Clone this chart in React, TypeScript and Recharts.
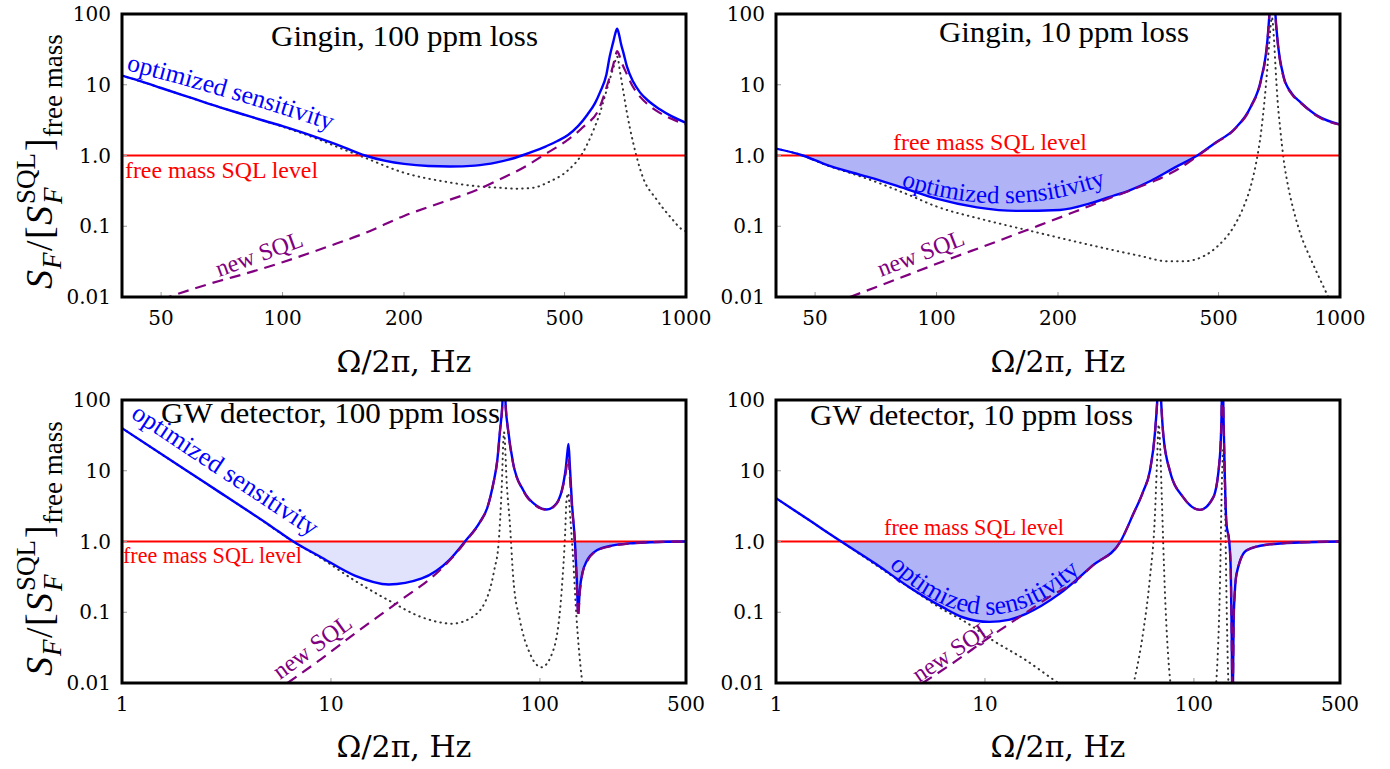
import React from 'react';
import { ComposedChart, Line, Area, XAxis, YAxis, ReferenceLine } from 'recharts';

const TIMES = "'Liberation Serif', 'Times New Roman', serif";
const DJV = "'DejaVu Serif', serif";

const BLUE = '#0000ff';
const PURPLE = '#800080';
const RED = '#ff0000';
const DOT = '#333333';
const FILL_DARK = '#b1b3f7';
const FILL_LIGHT = '#e1e2fb';

// ticks
const ginginTicks = [50, 100, 200, 500, 1000];
const gwTicks = [1, 10, 100, 500];
const yTicks = [0.01, 0.1, 1, 10, 100];
const yTickLabels = ['0.01', '0.1', '1.0', '10', '100'];

// Gingin, 100 ppm loss
const g100BlueF = [40, 45, 50, 60, 70, 80, 90, 100, 120, 140, 160, 180, 200, 230, 260, 300, 340, 370, 392, 420, 450, 480, 510, 540, 570, 595, 612, 635, 647, 660, 668, 675, 682, 690, 700, 714, 740, 769, 810, 861, 920, 1000];
const g100BlueV = [13.5, 11, 9, 6.4, 4.8, 3.8, 3.1, 2.6, 1.85, 1.35, 1.0, 0.84, 0.76, 0.71, 0.7, 0.72, 0.8, 0.9, 1.0, 1.15, 1.35, 1.6, 1.95, 2.6, 3.8, 5.5, 7.8, 14, 25, 40, 53, 62, 52, 38, 28, 18, 11, 7.8, 5.8, 4.5, 3.6, 2.9];
const g100DashF = [50, 60, 70, 80, 100, 130, 160, 200, 250, 305, 345, 400, 442, 500, 555, 612, 640, 660, 668, 675, 682, 690, 714, 740, 769, 810, 861, 920, 1000];
const g100DashV = [0.0092, 0.013, 0.017, 0.021, 0.031, 0.052, 0.08, 0.14, 0.22, 0.33, 0.46, 0.7, 1.0, 1.55, 2.5, 4.9, 10.5, 19, 25, 30, 27, 22, 14, 9.2, 6.8, 5.1, 4.0, 3.3, 2.75];
const g100DotF = [40, 50, 60, 70, 80, 100, 120, 140, 160, 200, 257, 300, 345, 376, 417, 460, 507, 555, 590, 612, 630, 647, 662, 675, 688, 700, 714, 740, 781, 845, 920, 978, 1000];
const g100DotV = [13.5, 9, 6.4, 4.8, 3.8, 2.55, 1.78, 1.25, 0.93, 0.57, 0.42, 0.37, 0.35, 0.34, 0.35, 0.43, 0.6, 1.1, 2.3, 4.0, 7, 11.8, 18, 25, 14, 7.8, 4, 1.5, 0.5, 0.24, 0.13, 0.09, 0.085];

// Gingin, 10 ppm loss
const g10BlueF = [40, 46.6, 53, 62, 71, 85, 100, 126, 158, 202, 240, 269, 300, 340, 390, 443, 490, 546, 601, 637, 661, 668, 674, 680, 686, 692, 700, 725, 760, 800, 882, 1000];
const g10BlueV = [1.25, 1.0, 0.75, 0.57, 0.46, 0.33, 0.245, 0.185, 0.165, 0.17, 0.21, 0.26, 0.32, 0.44, 0.68, 1.0, 1.5, 2.33, 4.9, 11.8, 43, 95, 250, 500, 250, 95, 43, 13, 7.5, 5.6, 3.6, 2.75];
const g10DashF = [61, 80, 104, 140, 174, 220, 269, 310, 351, 400, 443, 490, 546, 601, 637, 661, 668, 674, 680, 686, 692, 700, 725, 760, 800, 882, 1000];
const g10DashV = [0.01, 0.018, 0.032, 0.06, 0.096, 0.16, 0.25, 0.34, 0.45, 0.66, 0.98, 1.48, 2.3, 4.8, 11.5, 42, 93, 245, 490, 245, 93, 42, 12.6, 7.3, 5.5, 3.55, 2.72];
const g10DotF = [40, 46.6, 53, 62, 71, 85, 100, 130, 177, 220, 269, 320, 374, 410, 460, 497, 546, 575, 601, 620, 637, 650, 661, 670, 678, 686, 692, 700, 712, 725, 745, 770, 800, 847, 900, 935, 960];
const g10DotV = [1.25, 1.0, 0.74, 0.55, 0.42, 0.28, 0.19, 0.125, 0.082, 0.061, 0.047, 0.038, 0.032, 0.032, 0.038, 0.052, 0.1, 0.18, 0.37, 0.8, 2.1, 6, 18, 50, 90, 45, 18, 6.2, 2.2, 0.88, 0.35, 0.156, 0.075, 0.034, 0.016, 0.01, 0.007];

// GW detector, 100 ppm loss
const gw100BlueF = [1, 2, 3, 4, 5, 6.6, 9.06, 13, 18.9, 27.2, 36.7, 43.8, 51.6, 56, 59.8, 62.5, 64.4, 66, 67.3, 68.6, 70.5, 74.5, 83.2, 96.4, 107.7, 120, 129.4, 133, 135, 137, 139, 142, 147, 150, 152.5, 155, 160, 167, 187, 224, 270, 324, 400, 500];
const gw100BlueV = [40, 10.4, 4.75, 2.72, 1.76, 1.0, 0.59, 0.33, 0.247, 0.3, 0.54, 1.0, 1.88, 3, 6.6, 14, 37, 80, 300, 80, 37, 12.6, 5.3, 3.2, 2.83, 3.45, 6.6, 11, 17, 24, 12, 3.8, 1.0, 0.3, 0.1, 0.2, 0.37, 0.52, 0.75, 0.88, 0.94, 0.97, 0.99, 1.0];
const gw100DashF = [6.2, 9, 13, 21, 32.8, 39, 43.8, 51.6, 56, 59.8, 62.5, 64.4, 66, 67.3, 68.6, 70.5, 74.5, 83.2, 96.4, 107.7, 120, 129.4, 133, 135, 137, 139, 142, 147, 150, 152.5, 155, 160, 167, 187, 224, 270, 324, 400, 500];
const gw100DashV = [0.01, 0.022, 0.05, 0.14, 0.38, 0.64, 0.98, 1.86, 3, 6.5, 14, 36, 80, 300, 80, 36, 12.4, 5.2, 3.15, 2.8, 3.4, 6.3, 9.5, 13, 15, 8.5, 3.4, 0.95, 0.27, 0.085, 0.18, 0.36, 0.5, 0.74, 0.87, 0.94, 0.97, 0.99, 1.0];
const gw100DotF = [1, 2, 4, 6.6, 9.06, 13, 18.9, 27.2, 37.9, 47.3, 56.8, 60.5, 63.4, 65.5, 67.3, 69.5, 71.8, 74.5, 80.2, 89.6, 101.8, 115.8, 127, 132, 134, 136.5, 140, 144, 149.6, 158.4, 165];
const gw100DotV = [40, 10.4, 2.72, 1.0, 0.57, 0.28, 0.147, 0.085, 0.069, 0.085, 0.184, 0.4, 0.94, 5, 35, 6, 1.8, 0.31, 0.077, 0.026, 0.0167, 0.029, 0.2, 1.3, 3.8, 4.8, 2, 0.6, 0.085, 0.012, 0.005];

// GW detector, 10 ppm loss
const gw10BlueF = [1, 1.5, 2.05, 3.01, 4.34, 6.27, 7.82, 10.5, 13, 15.7, 22.7, 32.8, 44.5, 51.3, 57, 61.6, 65, 67, 68.2, 69.4, 71.3, 76.7, 88.9, 106.9, 123.7, 133, 135.5, 137, 138.5, 140.6, 143, 147.5, 150, 151.4, 153, 155, 157, 160, 178.5, 222.6, 321, 500];
const gw10BlueV = [4.1, 1.85, 1.0, 0.48, 0.226, 0.118, 0.085, 0.073, 0.078, 0.095, 0.182, 0.46, 1.0, 2.46, 5, 10.1, 33, 120, 400, 120, 33, 10, 4.2, 2.8, 4.2, 15.5, 60, 400, 60, 8, 1.8, 1.0, 0.4, 0.07, 0.004, 0.08, 0.2, 0.35, 0.75, 0.9, 0.97, 1.0];
const gw10DashF = [5.03, 7, 10, 15, 20, 27.3, 32.8, 44.5, 51.3, 57, 61.6, 65, 67, 68.2, 69.4, 71.3, 76.7, 88.9, 106.9, 123.7, 133, 135.5, 137, 138.5, 140.6, 143, 147.5, 150, 151.4, 153, 155, 157, 160, 178.5, 222.6, 321, 500];
const gw10DashV = [0.01, 0.019, 0.04, 0.09, 0.16, 0.28, 0.46, 1.0, 2.46, 5, 10.1, 33, 120, 400, 120, 33, 10, 4.2, 2.8, 4.2, 15.5, 60, 400, 60, 8, 1.8, 1.0, 0.4, 0.07, 0.004, 0.08, 0.2, 0.35, 0.75, 0.9, 0.97, 1.0];
const gw10DotF = [1, 2.05, 4.34, 6.27, 7.82, 10.9, 15.7, 21.9, 26, 50, 52.2, 57.3, 61.6, 65, 66.5, 67.8, 69, 70, 72.6, 76.7, 80, 125, 128.3, 133, 136.4, 138, 140.6, 143, 145.9, 148];
const gw10DotV = [4.1, 1.0, 0.225, 0.11, 0.077, 0.04, 0.021, 0.0105, 0.0075, 0.007, 0.012, 0.055, 0.31, 2.2, 12, 45, 20, 5.3, 0.2, 0.012, 0.006, 0.006, 0.012, 0.2, 9, 20, 5.3, 0.2, 0.012, 0.006];

type Band = { lo: number; hi: number; color: string };

const toPoints = (f: number[], v: number[]) => f.map((x, i) => ({ f: x, v: v[i] }));
const inBand = (x: number, b: Band) => x >= b.lo && x <= b.hi;
// one row per frequency: the curve, plus for every band the curve lifted to the SQL level inside it
const toRows = (f: number[], v: number[], bands: Band[]) =>
  f.map((x, i) => {
    const row: Record<string, number> = { f: x, v: v[i] };
    bands.forEach((b, k) => {
      row[`b${k}`] = inBand(x, b) ? 1 : v[i];
    });
    return row;
  });
const toRange = (f: number[], v: number[], b: Band) =>
  f.map((x, i) => ({ f: x, r: inBand(x, b) ? [v[i], 1] : [1, 1] }));

const XTick = (props: any) => {
  const { x, y, payload } = props;
  return (
    <g>
      <line x1={x} x2={x} y1={y} y2={y - 5} stroke="#999" />
      <text x={x} y={y + 28} textAnchor="middle" fontFamily={DJV} fontSize={20} fill="#000">
        {payload.value}
      </text>
    </g>
  );
};

const YTick = (props: any) => {
  const { x, y, payload } = props;
  const i = yTicks.indexOf(payload.value);
  return (
    <g>
      <line x1={x} x2={x + 5} y1={y} y2={y} stroke="#999" />
      <text x={x - 11} y={y + 7} textAnchor="end" fontFamily={DJV} fontSize={20} fill="#000">
        {i >= 0 ? yTickLabels[i] : payload.value}
      </text>
    </g>
  );
};

function Panel(props: {
  left: number;
  top: number;
  height: number;
  domain: [number, number];
  xTicks: number[];
  blue: [number[], number[]];
  dash: [number[], number[]];
  dot: [number[], number[]];
  bands: Band[];
}) {
  const { left, top, height, domain, xTicks, blue, dash, dot, bands } = props;
  const rows = toRows(blue[0], blue[1], bands);
  return (
    <div style={{ position: 'absolute', left, top, width: 730, height }}>
      <ComposedChart width={730} height={height} data={rows} margin={{ top: 14, right: 44, bottom: 0, left: 0 }}>
        <XAxis
          dataKey="f"
          type="number"
          scale="log"
          domain={domain}
          allowDataOverflow
          ticks={xTicks}
          interval={0}
          tick={(p: any) => <XTick {...p} />}
          tickLine={false}
          axisLine={false}
          tickSize={0}
          tickMargin={0}
          height={height - 297}
        />
        <YAxis
          type="number"
          scale="log"
          domain={[0.01, 100]}
          allowDataOverflow
          ticks={yTicks}
          interval={0}
          tick={(p: any) => <YTick {...p} />}
          tickLine={false}
          axisLine={false}
          tickSize={0}
          tickMargin={0}
          width={122}
        />
        {/* shaded gain: band colour up to the SQL level, then white up to the curve */}
        {bands.map((b, k) => (
          <Area
            key={`lift${k}`}
            dataKey={`b${k}`}
            baseValue={0.01}
            type="monotone"
            stroke="none"
            fill={b.color}
            fillOpacity={1}
            isAnimationActive={false}
          />
        ))}
        <Area
          dataKey="v"
          baseValue={0.01}
          type="monotone"
          stroke="none"
          fill="#ffffff"
          fillOpacity={1}
          isAnimationActive={false}
        />
        {bands.map((b, k) => (
          <Area
            key={`rng${k}`}
            data={toRange(blue[0], blue[1], b)}
            dataKey="r"
            type="monotone"
            stroke="none"
            fill={b.color}
            fillOpacity={1}
            isAnimationActive={false}
          />
        ))}
        <Line
          data={toPoints(dot[0], dot[1])}
          dataKey="v"
          type="monotone"
          stroke={DOT}
          strokeWidth={2}
          strokeDasharray="0.5 5"
          strokeLinecap="round"
          dot={false}
          activeDot={false}
          isAnimationActive={false}
        />
        <ReferenceLine y={1} stroke={RED} strokeWidth={2} />
        <Line
          data={toPoints(blue[0], blue[1])}
          dataKey="v"
          type="monotone"
          stroke={BLUE}
          strokeWidth={2.4}
          dot={false}
          activeDot={false}
          isAnimationActive={false}
        />
        <Line
          data={toPoints(dash[0], dash[1])}
          dataKey="v"
          type="monotone"
          stroke={PURPLE}
          strokeWidth={2.2}
          strokeDasharray="11 7"
          dot={false}
          activeDot={false}
          isAnimationActive={false}
        />
      </ComposedChart>
    </div>
  );
}

const YLabel = ({ cx, cy }: { cx: number; cy: number }) => (
  <g transform={`translate(${cx},${cy}) rotate(-90)`} fontFamily={TIMES} fill="#000">
    <text x={-132} y={0} fontSize={38} fontStyle="italic">S</text>
    <text x={-112} y={9} fontSize={27} fontStyle="italic">F</text>
    <text x={-94} y={0} fontSize={38}>/</text>
    <text x={-82} y={0} fontSize={38}>[</text>
    <text x={-68} y={0} fontSize={38} fontStyle="italic">S</text>
    <text x={-47} y={-17} fontSize={27}>SQL</text>
    <text x={-47} y={10} fontSize={27} fontStyle="italic">F</text>
    <text x={6} y={0} fontSize={38}>]</text>
    <text x={20} y={10} fontSize={27}>free mass</text>
  </g>
);

const Frame = ({ x, y }: { x: number; y: number }) => (
  <rect x={x} y={y} width={564} height={283} fill="none" stroke="#000" strokeWidth={3} />
);

export default function App() {
  return (
    <div style={{ position: 'absolute', left: 0, top: 0, width: 1390, height: 769, overflow: 'hidden', background: '#fff' }}>
      <Panel
        left={0}
        top={0}
        height={385}
        domain={[40, 1000]}
        xTicks={ginginTicks}
        blue={[g100BlueF, g100BlueV]}
        dash={[g100DashF, g100DashV]}
        dot={[g100DotF, g100DotV]}
        bands={[{ lo: 160, hi: 392, color: FILL_DARK }]}
      />
      <Panel
        left={654}
        top={0}
        height={385}
        domain={[40, 1000]}
        xTicks={ginginTicks}
        blue={[g10BlueF, g10BlueV]}
        dash={[g10DashF, g10DashV]}
        dot={[g10DotF, g10DotV]}
        bands={[{ lo: 46.6, hi: 443, color: FILL_DARK }]}
      />
      <Panel
        left={0}
        top={386}
        height={383}
        domain={[1, 500]}
        xTicks={gwTicks}
        blue={[gw100BlueF, gw100BlueV]}
        dash={[gw100DashF, gw100DashV]}
        dot={[gw100DotF, gw100DotV]}
        bands={[
          { lo: 6.6, hi: 43.8, color: FILL_LIGHT },
          { lo: 147, hi: 500, color: FILL_DARK },
        ]}
      />
      <Panel
        left={654}
        top={386}
        height={383}
        domain={[1, 500]}
        xTicks={gwTicks}
        blue={[gw10BlueF, gw10BlueV]}
        dash={[gw10DashF, gw10DashV]}
        dot={[gw10DotF, gw10DotV]}
        bands={[
          { lo: 2.05, hi: 44.5, color: FILL_DARK },
          { lo: 147.5, hi: 500, color: FILL_LIGHT },
        ]}
      />
      <svg width={1390} height={769} style={{ position: 'absolute', left: 0, top: 0, pointerEvents: 'none' }}>
        <defs>
          <path id="os1" d="M 126 70 Q 228 96 333 131" />
          <path id="os2" d="M 901 186 Q 1003 221 1105 185" />
          <path id="os4" d="M 889 566 Q 985 660 1080 572" />
        </defs>
        <Frame x={122} y={14} />
        <Frame x={776} y={14} />
        <Frame x={122} y={400} />
        <Frame x={776} y={400} />

        <g fontFamily={TIMES} fill="#000" fontSize={30}>
          <text x={271} y={46} textLength={267} lengthAdjust="spacingAndGlyphs">Gingin, 100 ppm loss</text>
          <text x={939} y={42} textLength={250} lengthAdjust="spacingAndGlyphs">Gingin, 10 ppm loss</text>
          <text x={161} y={423} textLength={339} lengthAdjust="spacingAndGlyphs">GW detector, 100 ppm loss</text>
          <text x={810} y={425} textLength={323} lengthAdjust="spacingAndGlyphs">GW detector, 10 ppm loss</text>
        </g>

        <g fontFamily={TIMES} fill={RED} fontSize={23}>
          <text x={125} y={178} textLength={193} lengthAdjust="spacingAndGlyphs">free mass SQL level</text>
          <text x={893} y={150} textLength={194} lengthAdjust="spacingAndGlyphs">free mass SQL level</text>
          <text x={123} y={563} textLength={179} lengthAdjust="spacingAndGlyphs">free mass SQL level</text>
          <text x={884} y={535} textLength={180} lengthAdjust="spacingAndGlyphs">free mass SQL level</text>
        </g>

        <g fontFamily={TIMES} fill={BLUE}>
          <text fontSize={25.5}><textPath href="#os1">optimized sensitivity</textPath></text>
          <text fontSize={25}><textPath href="#os2">optimized sensitivity</textPath></text>
          <text fontSize={26}><textPath href="#os4">optimized sensitivity</textPath></text>
          <text transform="translate(130,417) rotate(33.5)" fontSize={26}>optimized sensitivity</text>
        </g>

        <g fontFamily={TIMES} fill={PURPLE} fontSize={24}>
          <text transform="translate(219,277) rotate(-20)">new SQL</text>
          <text transform="translate(881,277) rotate(-21)">new SQL</text>
          <text transform="translate(280,680) rotate(-36)">new SQL</text>
          <text transform="translate(919,683) rotate(-34)">new SQL</text>
        </g>

        <g fontFamily={DJV} fill="#000" fontSize={30} textAnchor="middle">
          <text x={404} y={372}>Ω/2π, Hz</text>
          <text x={1058} y={372}>Ω/2π, Hz</text>
          <text x={404} y={757}>Ω/2π, Hz</text>
          <text x={1058} y={757}>Ω/2π, Hz</text>
        </g>

        <YLabel cx={52} cy={157} />
        <YLabel cx={52} cy={544} />
      </svg>
    </div>
  );
}
